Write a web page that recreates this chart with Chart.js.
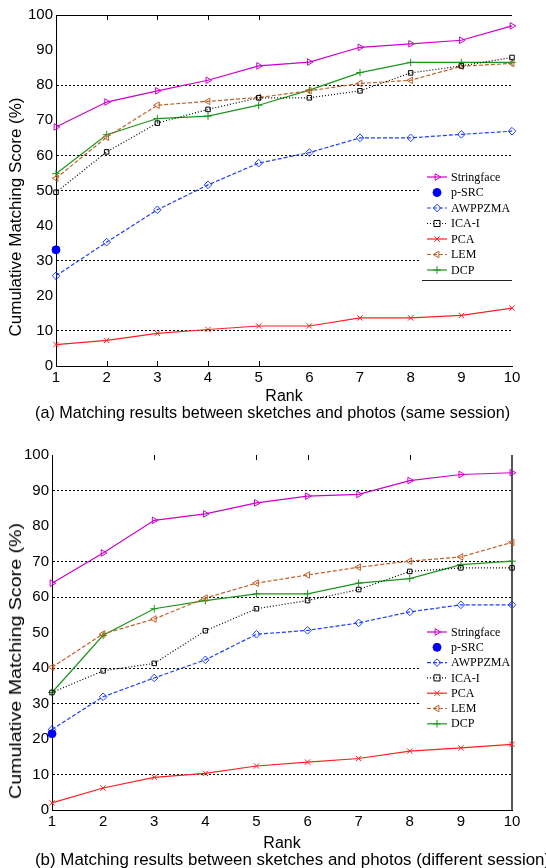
<!DOCTYPE html>
<html><head><meta charset="utf-8">
<script src="https://cdn.jsdelivr.net/npm/chart.js@4/dist/chart.umd.min.js"></script>
<style>
html,body{margin:0;padding:0;background:#fff;overflow:hidden;width:546px;height:868px;}
canvas{position:absolute;left:0;}
.cap{position:absolute;font-family:'Liberation Sans',Arial,sans-serif;font-size:16.2px;white-space:nowrap;color:#000;line-height:18px;}
.ytitle{position:absolute;font-family:'Liberation Sans',Arial,sans-serif;font-size:17px;white-space:nowrap;color:#000;
  width:300px;height:20px;line-height:20px;text-align:center;transform-origin:50% 50%;}
</style></head><body>
<canvas id="c1" width="546" height="405" style="top:0px"></canvas>
<div class="ytitle" style="left:-134px;top:207px;transform:rotate(-90deg)">Cumulative Matching Score (%)</div>
<div class="cap" style="left:35px;top:403px">(a) Matching results between sketches and photos (same session)</div>
<canvas id="c2" width="546" height="412" style="top:440px"></canvas>
<div class="ytitle" style="left:-134px;top:651px;transform:rotate(-90deg) scaleX(1.155)">Cumulative Matching Score (%)</div>
<div class="cap" style="left:35px;top:851px;font-size:16.9px">(b) Matching results between sketches and photos (different session)</div>
<script>
// ---------- data ----------
const ranks = ['1','2','3','4','5','6','7','8','9','10'];
const seriesNames = ['Stringface','p-SRC','AWPPZMA','ICA-I','PCA','LEM','DCP'];

// (a) same session
const stringfaceA = [68.1, 75.2, 78.4, 81.4, 85.5, 86.6, 90.8, 91.8, 92.8, 96.9];
const psrcA       = [33.1, null, null, null, null, null, null, null, null, null];
const awppzmaA    = [25.7, 35.3, 44.5, 51.6, 57.8, 60.8, 65.0, 65.0, 66.0, 66.9];
const icaA        = [49.5, 61.0, 69.2, 73.1, 76.4, 76.4, 78.4, 83.5, 85.5, 87.9];
const pcaA        = [6.1, 7.3, 9.3, 10.4, 11.4, 11.4, 13.7, 13.7, 14.4, 16.5];
const lemA        = [53.5, 65.2, 74.3, 75.4, 76.5, 78.4, 80.5, 81.4, 85.4, 86.2];
const dcpA        = [54.8, 65.9, 70.5, 71.2, 74.3, 78.6, 83.6, 86.5, 86.5, 86.5];

// (b) different session
const stringfaceB = [63.9, 72.4, 81.6, 83.4, 86.5, 88.4, 88.9, 92.8, 94.5, 95.0];
const psrcB       = [21.5, null, null, null, null, null, null, null, null, null];
const awppzmaB    = [22.7, 31.9, 37.2, 42.3, 49.5, 50.6, 52.7, 55.8, 57.8, 57.8];
const icaB        = [33.1, 39.2, 41.3, 50.5, 56.7, 59.0, 62.1, 67.2, 68.2, 68.2];
const pcaB        = [2.0, 6.2, 9.2, 10.3, 12.4, 13.5, 14.5, 16.6, 17.5, 18.5];
const lemB        = [40.2, 49.6, 53.8, 59.7, 63.9, 66.2, 68.4, 70.1, 71.3, 75.4];
const dcpB        = [33.1, 49.2, 56.7, 59.0, 60.9, 60.9, 63.9, 65.2, 69.1, 70.1];

const yTickValues = [0,10,20,30,40,50,60,70,80,90,100];
const gridA = [10,30,50,60,80];
const gridB = [10,30,40,60,70,90];

// ---------- styles ----------
const styles = {
  'Stringface': {color:'#cc00cc', dash:[], ps:'triangle', rot:90, fill:false},
  'p-SRC':      {color:'#0000ff', dash:[], ps:'circle', rot:0, fill:true, noLine:true},
  'AWPPZMA':    {color:'#1f3dff', dash:[4,2], ps:'rectRot', rot:0, fill:false},
  'ICA-I':      {color:'#000000', dash:[1,2], ps:'rect', rot:0, fill:false},
  'PCA':        {color:'#ff2020', dash:[], ps:'crossRot', rot:0, fill:false},
  'LEM':        {color:'#c0602a', dash:[4,2], ps:'triangle', rot:-90, fill:false},
  'DCP':        {color:'#1a961a', dash:[], ps:'cross', rot:0, fill:false}
};

function makeDatasets(arrs){
  return seriesNames.map((name,i)=>{
    const s = styles[name];
    return {
      label:name, data:arrs[i],
      borderColor:s.color, backgroundColor:s.fill?s.color:'rgba(0,0,0,0)',
      borderWidth:1.2, borderDash:s.dash,
      pointStyle:s.ps, pointRotation:s.rot,
      pointRadius: s.ps==='rect'?3.2:(s.ps==='circle'?4:3.8),
      pointBorderColor:s.color,
      pointBackgroundColor:s.fill?s.color:'rgba(0,0,0,0)',
      pointBorderWidth:1,
      showLine: !s.noLine, tension:0, spanGaps:false
    };
  });
}

function drawMarker(ctx, ps, rot, r, x, y, fill){
  ctx.save();
  ctx.translate(x,y);
  ctx.rotate(rot*Math.PI/180);
  ctx.beginPath();
  if(ps==='circle'){ ctx.arc(0,0,r,0,Math.PI*2); }
  else if(ps==='triangle'){ ctx.moveTo(0,-r); ctx.lineTo(r*0.87,r*0.5); ctx.lineTo(-r*0.87,r*0.5); ctx.closePath(); }
  else if(ps==='rect'){ ctx.rect(-r*0.8,-r*0.8,r*1.6,r*1.6); }
  else if(ps==='rectRot'){ ctx.moveTo(0,-r); ctx.lineTo(r,0); ctx.lineTo(0,r); ctx.lineTo(-r,0); ctx.closePath(); }
  else if(ps==='cross'){ ctx.moveTo(0,-r); ctx.lineTo(0,r); ctx.moveTo(-r,0); ctx.lineTo(r,0); }
  else if(ps==='crossRot'){ const d=r*0.7; ctx.moveTo(-d,-d); ctx.lineTo(d,d); ctx.moveTo(d,-d); ctx.lineTo(-d,d); }
  if(fill){ ctx.fill(); }
  ctx.stroke();
  ctx.restore();
}

const decor = {
  id:'decor',
  afterDatasetsDraw(chart, args, opts){
    const ctx = chart.ctx, ca = chart.chartArea, xs = chart.scales.x;
    ctx.save();
    ctx.strokeStyle='#000'; ctx.lineWidth=1;
    (opts.topTicks||[]).forEach(v=>{
      const px = Math.round(xs.getPixelForValue(v-1))+0.5;
      ctx.beginPath(); ctx.moveTo(px,ca.top); ctx.lineTo(px,ca.top+5); ctx.stroke();
    });
    (opts.bottomTicks||[]).forEach(v=>{
      const px = Math.round(xs.getPixelForValue(v-1))+0.5;
      ctx.beginPath(); ctx.moveTo(px,ca.bottom); ctx.lineTo(px,ca.bottom-5); ctx.stroke();
    });
    const L = opts.legend;
    ctx.fillStyle='#fff';
    ctx.fillRect(L.box[0],L.box[1],L.box[2]-L.box[0],L.box[3]-L.box[1]);
    if(L.bottomLine){
      ctx.strokeStyle='#222'; ctx.lineWidth=1.2;
      ctx.beginPath(); ctx.moveTo(L.box[0]+1,L.box[3]-0.5); ctx.lineTo(L.box[2],L.box[3]-0.5); ctx.stroke();
    }
    ctx.font = '12px "Liberation Serif", "Times New Roman", serif';
    ctx.textBaseline='middle'; ctx.textAlign='left';
    chart.data.datasets.forEach((ds,i)=>{
      const s = styles[ds.label];
      const y = L.y0 + i*L.step;
      ctx.strokeStyle = s.color; ctx.fillStyle = s.color; ctx.lineWidth=1.2;
      if(!s.noLine){
        ctx.setLineDash(s.dash);
        ctx.beginPath(); ctx.moveTo(L.x0,y); ctx.lineTo(L.x1,y); ctx.stroke();
        ctx.setLineDash([]);
      }
      ctx.lineWidth=1;
      drawMarker(ctx, s.ps, s.rot, s.ps==='circle'?4:3.8, (L.x0+L.x1)/2, y, s.fill);
      ctx.fillStyle='#000';
      ctx.fillText(ds.label, L.tx, y+0.5);
    });
    ctx.restore();
  }
};

function makeChart(id, arrs, gridVals, yWidth, xHeight, topTicks, bottomTicks, legend, rightBorder){
  return new Chart(document.getElementById(id), {
    type:'line',
    data:{labels:ranks, datasets:makeDatasets(arrs)},
    options:{
      responsive:false, animation:false,
      layout:{padding:{top:15,right:34,left:0,bottom:0}},
      plugins:{legend:{display:false}, tooltip:{enabled:false}, decor:{topTicks, bottomTicks, legend}},
      scales:{
        x:{
          type:'category', offset:false,
          afterFit:(s)=>{ s.height = xHeight; },
          grid:{
            drawTicks:false,
            color:(c)=> (rightBorder && c.index===ranks.length-1) ? '#555' : 'rgba(0,0,0,0)',
            lineWidth:(c)=> (rightBorder && c.index===ranks.length-1) ? 2 : 1
          },
          border:{display:true,color:'#000',width:1},
          ticks:{color:'#000',padding:3,maxRotation:0,autoSkip:false,
                 font:{family:'"Liberation Sans", Arial, sans-serif',size:15}},
          title:{display:true,text:'Rank',color:'#000',padding:{top:0,bottom:0},
                 font:{family:'"Liberation Sans", Arial, sans-serif',size:16,lineHeight:1}}
        },
        y:{
          min:0,max:100,
          afterFit:(s)=>{ s.width = yWidth; },
          afterBuildTicks:(s)=>{ s.ticks = yTickValues.map(v=>({value:v})); },
          grid:{
            drawTicks:false,
            color:(c)=>{ if(!c.tick) return 'rgba(0,0,0,0)';
              const v=c.tick.value;
              if(v===100 && !rightBorder) return '#000';
              return gridVals.includes(v) ? '#000' : 'rgba(0,0,0,0)'; },
            lineWidth:1
          },
          border:{display:true,color:'#000',width:1,
            dash:(c)=> (c.tick && c.tick.value!==100) ? [2,2] : []},
          ticks:{color:'#000',padding:3,
                 font:{family:'"Liberation Sans", Arial, sans-serif',size:15}},
          title:{display:false}
        }
      }
    },
    plugins:[decor]
  });
}

makeChart('c1',
  [stringfaceA, psrcA, awppzmaA, icaA, pcaA, lemA, dcpA],
  gridA, 56, 39, [2,3,4,5], [2,3,4,5],
  {box:[421,168,512,281], bottomLine:true, x0:427, x1:447, tx:451, y0:177, step:15.5},
  false);

makeChart('c2',
  [stringfaceB, psrcB, awppzmaB, icaB, pcaB, lemB, dcpB],
  gridB, 52, 42, [3,5,6,8], [],
  {box:[421,183,511,292], bottomLine:false, x0:427, x1:447, tx:451, y0:192, step:15.3},
  true);
</script>
</body></html>
